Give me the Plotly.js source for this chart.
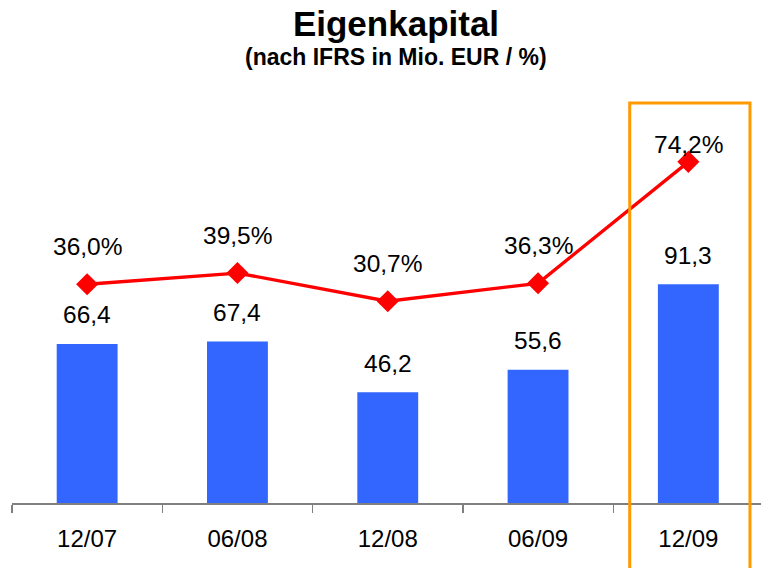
<!DOCTYPE html>
<html>
<head>
<meta charset="utf-8">
<script src="https://cdn.plot.ly/plotly-3.0.1.min.js"></script>
<style>html,body{margin:0;padding:0;background:#fff;}#chart{width:761px;height:568px;}</style>
</head>
<body>
<div id="chart"></div>
<script>
const categories = ["12/07", "06/08", "12/08", "06/09", "12/09"];
const equity = [66.4, 67.4, 46.2, 55.6, 91.3];
const equityLabels = ["66,4", "67,4", "46,2", "55,6", "91,3"];
const ratio = [36.0, 39.5, 30.7, 36.3, 74.2];
const ratioLabels = ["36,0%", "39,5%", "30,7%", "36,3%", "74,2%"];
const highlighted = "12/09";

const FONT = "Liberation Sans, Arial, Helvetica, sans-serif";
const pctShift = [38, 38, 38, 38, 17];

const bars = {
  type: "bar", x: categories, y: equity,
  marker: {color: "#3366FF"}, hoverinfo: "none"
};
const line = {
  type: "scatter", mode: "lines+markers", x: categories, y: ratio, yaxis: "y2",
  line: {color: "#FF0000", width: 3.3},
  marker: {symbol: "diamond", size: 17, color: "#FF0000"}, hoverinfo: "none"
};

const annotations = [];
categories.forEach((c, i) => {
  annotations.push({x: c, y: equity[i], xref: "x", yref: "y", text: equityLabels[i],
    showarrow: false, yanchor: "middle", yshift: 29, font: {family: FONT, size: 24.5, color: "#000"}});
  annotations.push({x: c, y: ratio[i], xref: "x", yref: "y2", text: ratioLabels[i],
    showarrow: false, yanchor: "middle", yshift: pctShift[i], font: {family: FONT, size: 24.5, color: "#000"}});
});
annotations.push({xref: "paper", yref: "paper", x: (396 - 12) / 749, y: (503 - 57) / 403,
  xanchor: "center", yanchor: "middle", showarrow: false,
  text: "<b>(nach IFRS in Mio. EUR / %)</b>", font: {family: FONT, size: 23, color: "#000"}});

const hiIdx = categories.indexOf(highlighted);

const layout = {
  width: 761, height: 568,
  margin: {l: 12, r: 0, t: 100, b: 65},
  paper_bgcolor: "#fff", plot_bgcolor: "#fff",
  showlegend: false,
  bargap: 0.595,
  title: {text: "<b>Eigenkapital</b>", x: 396 / 761, xanchor: "center", xref: "container",
    y: 1 - 24 / 568, yanchor: "middle", yref: "container",
    font: {family: FONT, size: 35, color: "#000"}},
  xaxis: {
    type: "category", range: [-0.5, -0.5 + 749 / 150.3],
    showline: true, linecolor: "#7f7f7f", linewidth: 1.5,
    ticks: "outside", tickson: "boundaries", ticklen: 8, tickcolor: "#7f7f7f", tickwidth: 1.2,
    showgrid: false, zeroline: false,
    tickfont: {family: FONT, size: 24, color: "#000"}, ticklabelstandoff: 14
  },
  yaxis: {range: [0, 403 / 2.395], visible: false, showgrid: false, zeroline: false},
  yaxis2: {range: [-32.27, 93.51], overlaying: "y", visible: false, showgrid: false, zeroline: false},
  shapes: [{type: "rect", xref: "x", yref: "paper",
    x0: hiIdx - 0.39, x1: hiIdx + 0.41, y0: -0.2, y1: (503 - 103) / 403,
    line: {color: "#FF9900", width: 3}, fillcolor: "rgba(0,0,0,0)"}],
  annotations: annotations
};

Plotly.newPlot("chart", [bars, line], layout, {displayModeBar: false, staticPlot: true});
</script>
</body>
</html>
